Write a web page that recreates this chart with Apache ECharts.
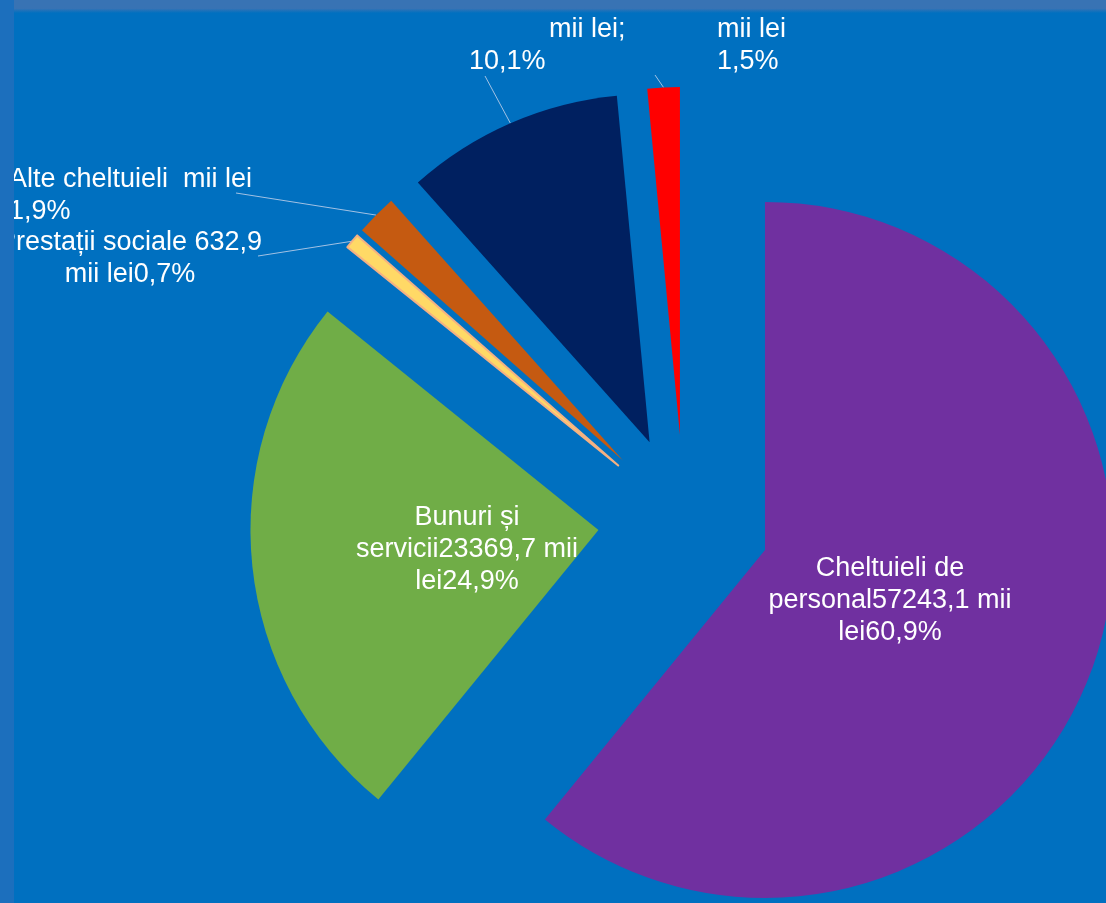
<!DOCTYPE html>
<html lang="ro">
<head>
<meta charset="UTF-8">
<title>Structura cheltuielilor</title>
<script src="https://cdn.jsdelivr.net/npm/echarts@6/dist/echarts.min.js"></script>
<style>
    html, body { margin: 0; padding: 0; background: #0070c0; }
    #chart { width: 1106px; height: 903px; }
</style>
</head>
<body>
<div id="chart"></div>
<script type="text/javascript">
    // date: categorii si ponderi (%)
    var categorii = ['Cheltuieli de personal', 'Bunuri și servicii', 'Prestații sociale', 'Alte cheltuieli', 'Categoria 5', 'Categoria 6'];
    var procente = [60.9, 24.9, 0.7, 1.9, 10.1, 1.5];
    var culori = ['#7030a0', '#70ad47', '#ffd966', '#c55a11', '#002060', '#ff0000'];
    // textele etichetelor, asa cum apar pe slide
    var etichete = [
        'Cheltuieli de\npersonal57243,1 mii\nlei60,9%',
        'Bunuri și\nservicii23369,7 mii\nlei24,9%',
        'Prestații sociale 632,9\nmii lei0,7%',
        'Alte cheltuieli  mii lei\n1,9%',
        '{pad|mii lei;}\n{t|10,1%}',
        'mii lei\n1,5%'
    ];

    // pozitia etichetelor (layout)
    var pozEticheta = [
        {x: 890, y: 601, align: 'center'},
        {x: 467, y: 550, align: 'center'},
        {x: 130, y: 259, align: 'center', capat: [258, 256]},
        {x: 9, y: 196, align: 'left', capat: [236, 193]},
        {x: 469, y: 46, align: 'left', capat: [485, 76]},
        {x: 717, y: 46, align: 'left', capat: [655, 75]}
    ];

    var centru = [684, 521];
    var raza = 348;
    var departare = 86; // cat de mult e "scos" fiecare felie

    var myChart = echarts.init(document.getElementById('chart'), null, {renderer: 'canvas'});

    var total = procente.reduce(function (a, b) { return a + b; }, 0);
    var cumulat = 0;
    var serii = procente.map(function (v, i) {
        var mijloc = (cumulat + v / 2) / total * 2 * Math.PI;
        cumulat += v;
        var c = [centru[0] + departare * Math.sin(mijloc), centru[1] - departare * Math.cos(mijloc)];
        var afara = !!pozEticheta[i].capat;
        return {
            type: 'pie',
            silent: true,
            animation: false,
            center: c,
            radius: raza,
            startAngle: 90,
            clockwise: true,
            avoidLabelOverlap: false,
            label: {
                position: afara ? 'outside' : 'inside',
                color: '#ffffff',
                fontFamily: 'Liberation Sans, Arial, sans-serif',
                fontSize: 27,
                lineHeight: 32,
                formatter: function () { return etichete[i]; },
                rich: {
                    pad: {padding: [0, 0, 0, 80], color: '#fff', fontSize: 27, lineHeight: 32, fontFamily: 'Liberation Sans, Arial, sans-serif'},
                    t: {color: '#fff', fontSize: 27, lineHeight: 32, fontFamily: 'Liberation Sans, Arial, sans-serif'}
                }
            },
            labelLine: {show: afara, lineStyle: {color: '#a3c2e4', width: 1}},
            labelLayout: function (p) {
                var lp = pozEticheta[i];
                var r = {x: lp.x, y: lp.y, align: lp.align, verticalAlign: 'middle'};
                if (lp.capat && p.labelLinePoints) {
                    r.labelLinePoints = [p.labelLinePoints[0], lp.capat];
                }
                return r;
            },
            data: procente.map(function (w, j) {
                var item = {value: w, name: categorii[j]};
                if (j === i) {
                    item.itemStyle = {color: culori[j], borderWidth: j === 2 ? 2 : 0, borderColor: '#f4b183'};
                    item.label = {show: true};
                } else {
                    item.itemStyle = {color: 'transparent', borderWidth: 0};
                    item.label = {show: false};
                    item.labelLine = {show: false};
                }
                return item;
            })
        };
    });

    var option = {
        backgroundColor: '#0070c0',
        series: serii,
        graphic: [
            {type: 'rect', z: 100, shape: {x: 0, y: 0, width: 14, height: 903}, style: {fill: '#1c6fbd'}},
            {
                type: 'rect', z: 100, shape: {x: 14, y: 0, width: 1092, height: 13},
                style: {
                    fill: new echarts.graphic.LinearGradient(0, 0, 0, 1, [
                        {offset: 0, color: '#3873b4'},
                        {offset: 0.65, color: '#3873b4'},
                        {offset: 1, color: '#0070c0'}
                    ])
                }
            }
        ]
    };
    myChart.setOption(option);
</script>
</body>
</html>
